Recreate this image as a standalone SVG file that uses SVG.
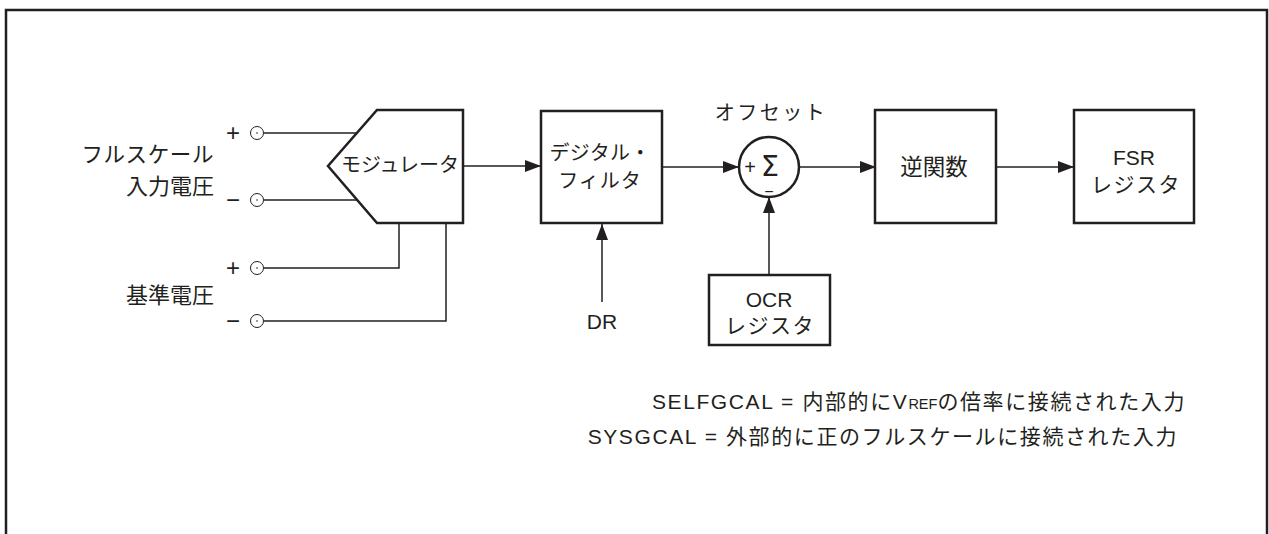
<svg xmlns="http://www.w3.org/2000/svg" width="1269" height="534" viewBox="0 0 1269 534">
<defs>
<style>
.box{fill:#fff;stroke:#231f20;stroke-width:2.5}
.ln{fill:none;stroke:#231f20;stroke-width:1.5}
.term{fill:#fff;stroke:#231f20;stroke-width:1}
.t{font-family:"Liberation Sans","Noto Sans CJK JP",sans-serif;fill:#231f20}
.jp{font-family:"Noto Sans CJK JP","Liberation Sans",sans-serif;fill:#231f20}
.pm{font-family:"Liberation Sans",sans-serif;fill:#231f20}
</style>
<marker id="ah" markerUnits="userSpaceOnUse" markerWidth="18" markerHeight="12" refX="16" refY="6" orient="auto">
<path d="M0,0 L16,6 L0,12 Z" fill="#231f20"/>
</marker>
</defs>
<rect x="0" y="0" width="1269" height="534" fill="#fff"/>
<rect x="6" y="10" width="1261" height="540" fill="none" stroke="#231f20" stroke-width="2.5"/>

<g id="connectors">
<line class="ln" x1="264" y1="133" x2="357" y2="133"/>
<line class="ln" x1="264" y1="200" x2="357" y2="200"/>
<polyline class="ln" points="264,268 399,268 399,223"/>
<polyline class="ln" points="264,321 446,321 446,223"/>
<line class="ln" x1="463" y1="166" x2="541" y2="166" marker-end="url(#ah)"/>
<line class="ln" x1="602" y1="302" x2="602" y2="224" marker-end="url(#ah)"/>
<line class="ln" x1="662" y1="167" x2="739" y2="167" marker-end="url(#ah)"/>
<line class="ln" x1="769" y1="275" x2="769" y2="197" marker-end="url(#ah)"/>
<line class="ln" x1="799" y1="167" x2="876" y2="167" marker-end="url(#ah)"/>
<line class="ln" x1="996" y1="167" x2="1074" y2="167" marker-end="url(#ah)"/>
</g>

<g id="terminals">
<text class="pm" x="233" y="141" font-size="24" text-anchor="middle">+</text>
<circle class="term" cx="257" cy="133" r="6.5"/><circle cx="257" cy="133" r="0.8" fill="#231f20"/>
<text class="pm" x="233" y="208" font-size="24" text-anchor="middle">−</text>
<circle class="term" cx="257" cy="200" r="6.5"/><circle cx="257" cy="200" r="0.8" fill="#231f20"/>
<text class="pm" x="233" y="276" font-size="24" text-anchor="middle">+</text>
<circle class="term" cx="257" cy="268" r="6.5"/><circle cx="257" cy="268" r="0.8" fill="#231f20"/>
<text class="pm" x="233" y="329" font-size="24" text-anchor="middle">−</text>
<circle class="term" cx="257" cy="321" r="6.5"/><circle cx="257" cy="321" r="0.8" fill="#231f20"/>
</g>

<g id="labels-left">
<text class="jp" x="214" y="162" text-anchor="end" font-size="21.5" letter-spacing="0.6">フルスケール</text>
<text class="jp" x="214" y="194" text-anchor="end" font-size="22">入力電圧</text>
<text class="jp" x="214" y="303" text-anchor="end" font-size="22">基準電圧</text>
</g>

<g id="modulator">
<polygon class="box" points="377,110 463,110 463,223 377,223 328,166"/>
<text class="jp" x="400" y="172" text-anchor="middle" font-size="20">モジュレータ</text>
</g>

<g id="digital-filter">
<rect class="box" x="541" y="111" width="121" height="112"/>
<text class="jp" x="600" y="160" text-anchor="middle" font-size="20" letter-spacing="0.3">デジタル・</text>
<text class="jp" x="600" y="188" text-anchor="middle" font-size="20" letter-spacing="1">フィルタ</text>
</g>

<g id="dr">
<text class="t" x="602" y="329" text-anchor="middle" font-size="21">DR</text>
</g>

<g id="sum">
<text class="jp" x="771" y="120" text-anchor="middle" font-size="20" letter-spacing="2.5">オフセット</text>
<circle cx="769" cy="167" r="30" fill="#fff" stroke="#231f20" stroke-width="2.5"/>
<text class="t" x="750" y="174" text-anchor="middle" font-size="20">+</text>
<text x="770" y="176" text-anchor="middle" font-family="DejaVu Sans,sans-serif" font-size="29" fill="#231f20">Σ</text>
<text class="t" x="769" y="197" text-anchor="middle" font-size="16">−</text>
</g>

<g id="ocr">
<rect class="box" x="709" y="275" width="121" height="70"/>
<text class="t" x="769" y="307" text-anchor="middle" font-size="21">OCR</text>
<text class="jp" x="770" y="333" text-anchor="middle" font-size="21" letter-spacing="1.5">レジスタ</text>
</g>

<g id="inverse">
<rect class="box" x="875" y="110" width="121" height="113"/>
<text class="jp" x="934" y="175" text-anchor="middle" font-size="22.5">逆関数</text>
</g>

<g id="fsr">
<rect class="box" x="1074" y="110" width="120" height="113"/>
<text class="t" x="1134" y="165" text-anchor="middle" font-size="21">FSR</text>
<text class="jp" x="1136" y="192" text-anchor="middle" font-size="21" letter-spacing="1.5">レジスタ</text>
</g>

<g id="notes">
<text class="t" x="1186" y="409" text-anchor="end" font-size="21" letter-spacing="1.6">SELFGCAL = 内部的にV<tspan font-size="14.5" letter-spacing="0">REF</tspan>の倍率に接続された入力</text>
<text class="t" x="1178" y="444" text-anchor="end" font-size="21" letter-spacing="1.6">SYSGCAL = 外部的に正のフルスケールに接続された入力</text>
</g>
</svg>
